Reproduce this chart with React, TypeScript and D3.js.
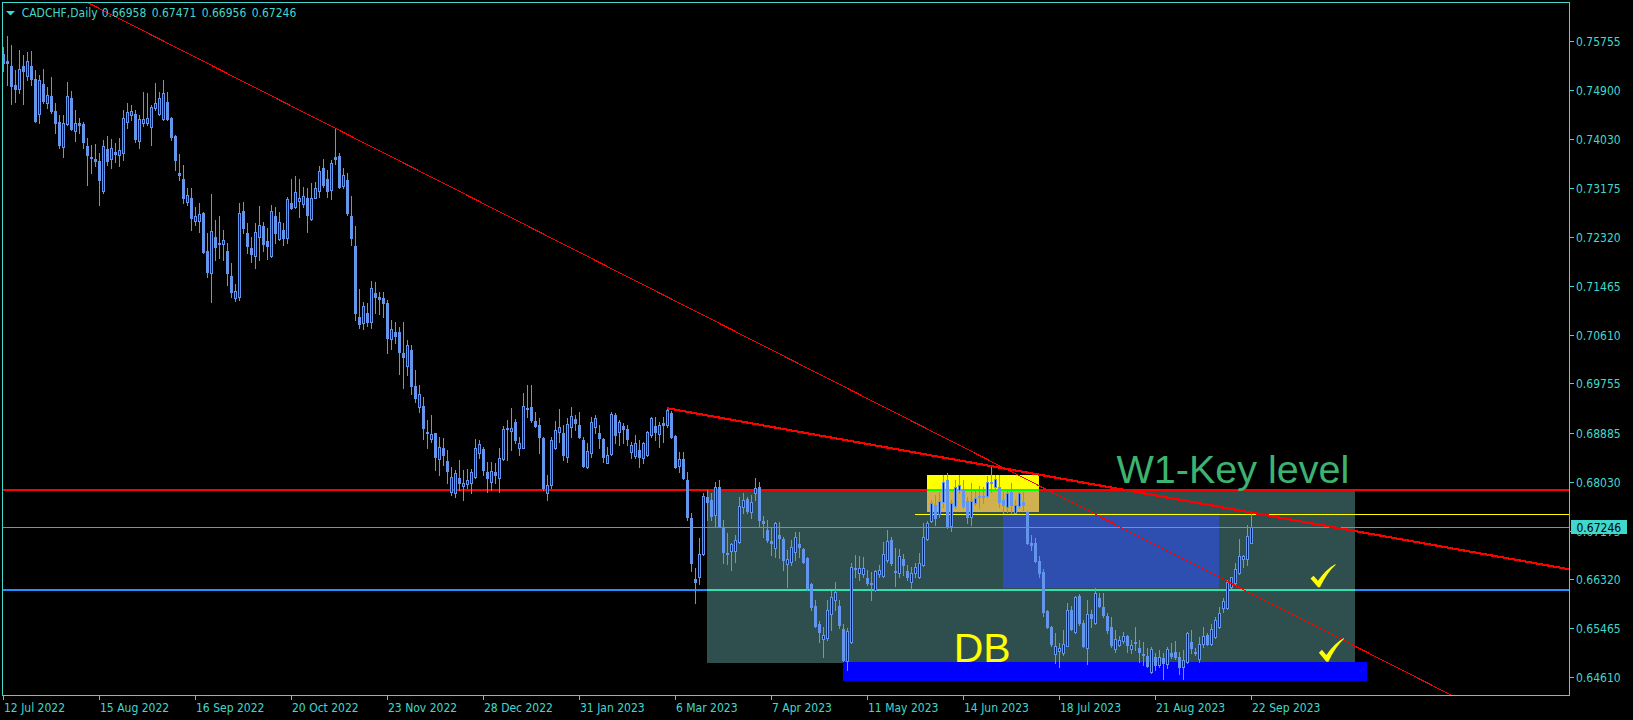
import React from "react";
import * as d3 from "d3";

// ---------- DATA ----------
const SYMBOL = "CADCHF,Daily";
const LAST_OHLC = ["0.66958", "0.67471", "0.66956", "0.67246"];

// daily candles, prices in points (1 point = 0.00001)
const OPEN = [75527,75405,75317,74984,74920,75317,75148,75317,75089,74470,75002,74675,74791,74529,74330,73904,74295,74751,74184,74313,74295,73915,73728,73688,73652,73133,73863,73682,73804,73764,73787,74330,74458,74476,74009,74324,74324,74254,74575,74476,74383,74686,74400,74091,73436,73337,72928,72998,72607,72607,72736,72076,71696,72327,72221,72198,72081,71637,71250,71270,72776,72397,72122,71994,72327,72514,72251,71994,72689,72292,72443,72309,72917,72852,72957,72899,72998,72636,73009,73133,73530,73337,73144,73723,73740,73220,73320,72689,72163,70925,70820,70995,70826,71334,71275,71246,71170,70528,70650,70650,70282,70066,70341,69710,69336,69359,68910,68781,68880,68425,68618,68396,67860,67841,68093,67964,67993,68005,68122,68531,68606,68209,68034,68209,68093,68425,68969,68928,69085,68618,68630,69319,69348,69103,69027,68793,67841,67976,68630,68910,68881,68472,68986,69126,69027,68764,68297,68531,68998,68881,68776,68367,68513,69202,68910,69010,68951,68560,68484,68589,68443,68501,68852,69015,68863,69068,69027,69243,68834,68314,68431,68063,67391,66328,66369,66766,67759,67712,67449,67934,67245,66789,66824,66824,66982,67584,67730,67496,67841,67934,67344,67187,66994,66865,67099,67029,66585,66632,66807,66941,66854,66690,66240,65855,65539,65271,65288,65715,65960,65855,65452,64891,65230,66515,66439,66410,66340,66264,66135,66410,66381,66661,67011,66474,66439,66673,66474,66270,66439,66357,66573,67029,67350,67625,67467,67683,68063,67257,67607,67888,67888,67701,67420,67654,67782,67782,67782,68034,67946,67934,67712,67584,67858,67490,67607,67683,67508,66965,66953,66649,66457,65767,65481,65014,65072,65025,65160,65785,65393,66030,65551,65113,65715,65563,66001,65843,65680,65481,65095,65171,65247,65329,65095,65218,65125,65014,64979,64693,64955,64821,64938,64833,65037,65043,64955,64792,64879,65230,65055,64920,65189,65347,65189,65306,65493,65814,65814,66182,66252,66427,66673,66673,66958];
const HIGH = [75656,75843,75685,75247,75598,75510,75568,75586,75247,75159,75259,74955,75119,74663,74459,74459,75043,74885,74546,74400,74342,74050,73933,73950,73787,74020,74091,74032,73962,74050,74546,74663,74634,74546,74458,74867,74838,74634,75025,74867,75072,74867,74429,74108,73769,73582,73173,73173,72852,72911,72765,72385,73074,72619,72689,72443,72210,71859,71500,72911,72940,72560,72327,72560,72870,72589,72473,72881,72852,72753,72560,73017,73337,73395,73337,73203,73173,73261,73290,73565,73688,73495,73670,74225,73787,73524,73436,73039,72514,71410,71188,71170,71550,71538,71363,71363,71217,70866,70837,70750,70826,70516,70428,69990,69727,69523,69114,69202,68892,68822,68793,68588,68296,68239,68414,68239,68250,68250,68776,68764,68647,68385,68385,68355,68618,69010,69115,69319,69126,68823,69582,69728,69728,69261,69144,68823,68151,68823,69103,69307,69027,69144,69348,69202,69261,68823,68706,69173,69202,69027,68793,68647,69261,69232,69115,69068,69027,68735,68852,68764,68735,68928,69173,69173,69085,69173,69319,69278,68851,68559,68559,68209,67479,66515,67041,67829,67888,67829,68034,68063,67362,67128,66953,67099,67771,67841,67771,67800,68092,68034,67432,67362,67245,67333,67333,67070,66836,67011,67157,67157,66865,66719,66252,65960,65598,65493,65960,66124,66281,65960,65539,65464,66603,66749,66731,66719,66486,66457,66486,66573,66982,67187,67070,66865,66854,66766,66573,66544,66614,66778,67315,67350,67712,67800,67858,68150,68191,67712,68063,68150,68063,67771,68004,67888,67958,67946,68133,68285,68150,68150,67858,67876,68016,67712,67858,67858,67525,67099,67041,66731,66497,65785,65504,65376,65201,65434,65902,65855,66030,66065,65610,65960,65785,66164,66088,66077,65726,65668,65434,65329,65405,65347,65259,65493,65259,65230,65113,65142,65037,65084,65037,65131,65212,65247,65055,65084,65393,65434,65113,65317,65493,65388,65540,65668,65843,65989,66310,66369,66603,67023,66749,67274,67471];
const LOW = [75235,74984,74651,74692,74838,74651,75072,74984,74342,74313,74675,74575,74488,74137,73874,73728,74283,74195,74009,74137,73874,73232,73436,73565,72882,73100,73582,73524,73641,73571,73670,74225,74371,73991,73886,74266,74283,73933,74546,74458,74371,74371,74020,73495,73320,72922,72882,72443,72531,72414,72035,71626,71182,71918,71947,71918,71480,71269,71200,71217,72385,72035,71889,71772,71918,72081,71929,71976,72210,72268,72181,72210,72811,72823,72677,72852,72403,72619,72998,73028,73203,73028,72987,73600,73174,73174,72706,72181,70866,70720,70703,70761,70720,70983,70966,70925,70282,70352,70469,69920,69681,69903,69570,69435,69260,68775,68618,68734,68238,68150,68326,68016,67800,67771,67888,67713,67917,67830,68093,68443,68151,67859,67888,68005,67859,68414,68414,68589,68706,68501,68618,69173,69085,68998,68531,67888,67713,67917,68601,68723,68414,68385,68811,68940,68793,68297,68268,68472,68881,68618,68385,68355,68501,68706,68677,68706,68677,68443,68443,68297,68355,68484,68823,68764,68647,68735,68998,68793,68267,68209,68074,67362,66474,65902,66240,66749,67362,67362,67245,67245,66603,66585,66486,66632,66953,67479,67479,67391,67712,67245,67070,66982,66749,66719,66690,66486,66194,66573,66661,66719,66614,66135,65785,65493,65230,64967,65259,65434,65785,65464,64897,64733,65201,66369,66310,66369,66223,65960,66124,66369,66369,66632,66573,66205,66369,66398,66310,66147,66369,66340,66556,67011,67333,67274,67420,67596,67216,67175,67566,67829,67566,67303,67274,67625,67566,67654,67771,67858,67888,67596,67479,67508,67479,67479,67566,67537,66941,66836,66632,66369,65686,65464,65160,64850,64780,64996,65154,65434,65376,65522,65142,64833,65493,65540,65843,65668,65388,65142,65055,65154,65201,65055,65037,65084,64879,64821,64792,64687,64733,64792,64570,64763,64938,64920,64663,64570,64850,65025,64996,64879,65142,65171,65171,65288,65464,65756,65797,66164,66223,66416,66532,66573,66956];
const CLOSE = [75364,75376,74973,74920,75259,75235,75405,75089,74353,75072,74710,74809,74534,74324,73933,74313,74791,74213,74313,74283,73991,73758,73705,73658,73320,73915,73658,73874,73775,73845,74400,74505,74529,74038,74388,74388,74406,74593,74663,74751,74838,74383,74079,73670,73413,72998,73051,72660,72689,72724,72064,71713,72420,72152,72192,72268,71696,71357,71375,72747,72484,72163,72023,72408,72531,72198,72163,72776,72397,72584,72309,72987,72829,73103,72998,73039,72706,72998,73179,73477,73232,73133,73612,73694,73203,73407,72736,72297,70995,70790,71112,70837,71421,71275,71234,71170,70557,70703,70592,70300,70224,70423,69716,69494,69564,68980,68880,68869,68472,68635,68501,68226,68110,68180,68005,68005,68064,68197,68618,68688,68239,68093,68227,68151,68443,68957,68951,68969,68764,68706,69360,69302,69115,69010,68823,67917,67976,68764,68939,68986,68501,69045,69185,69056,68811,68309,68577,69074,69144,68793,68461,68501,69220,68852,69085,68951,68776,68677,68706,68472,68706,68899,69144,68910,69027,69027,69290,68822,68285,68431,68092,67420,66614,66281,66766,67782,67683,67432,67934,67245,66807,66772,66941,67011,67607,67712,67525,67671,67917,67362,67303,67011,66953,67303,67052,66661,66673,66895,67058,66895,66632,66164,65843,65504,65405,65347,65785,66007,66094,65522,64909,65417,66544,66497,66515,66527,66264,66240,66474,66486,66766,66999,66603,66456,66737,66567,66369,66439,66532,66603,67058,67315,67654,67391,67701,68034,67245,67666,67934,67969,67607,67420,67701,67741,67771,67759,68034,68004,68074,67683,67625,67841,67625,67625,67829,67625,66953,66924,66649,66439,65756,65481,65189,65154,65113,65189,65785,65446,66018,65563,65154,65715,65639,66077,65855,65697,65434,65171,65271,65259,65329,65171,65171,65201,65055,64996,64809,65101,64821,64955,64862,65095,64979,64967,64792,64908,65376,65113,65037,65189,65329,65189,65446,65610,65738,65942,66281,66357,66497,66737,66731,67082,67246];

const PRICE_TICKS = [0.75755, 0.749, 0.7403, 0.73175, 0.7232, 0.71465, 0.7061, 0.69755, 0.68885, 0.6803, 0.67175, 0.6632, 0.65465, 0.6461];
const DATE_LABELS = ["12 Jul 2022", "15 Aug 2022", "16 Sep 2022", "20 Oct 2022", "23 Nov 2022", "28 Dec 2022", "31 Jan 2023", "6 Mar 2023", "7 Apr 2023", "11 May 2023", "14 Jun 2023", "18 Jul 2023", "21 Aug 2023", "22 Sep 2023"];
const DATE_BARS = [0, 24, 48, 72, 96, 120, 144, 168, 192, 216, 240, 264, 288, 312];

// drawn objects (bar index, price)
const KEY_LEVEL = 0.67887;
const SUPPORT_LEVEL = 0.66135;
const HIGH_LINE = { bar: 228, price: 0.67471 };
const BID = 0.67246;
const TREND_MAJOR = [[83, 0.74225], [340, 0.65076]];
const TREND_MINOR = [[166, 0.69319], [349, 0.67029]];
const RANGE_RECT = { b0: 176, b1: 338, p0: 0.67861, p1: 0.64864 };
const TOP_RECT = { b0: 231, b1: 259, p0: 0.6815, p1: 0.67502 };
const MID_RECT = { b0: 250, b1: 304, p0: 0.67479, p1: 0.66175 };
const BASE_RECT = { b0: 210, b1: 341, p0: 0.64873, p1: 0.6454 };
const LABEL_KEY = { text: "W1-Key level", bar: 278.3, price: 0.68005 };
const LABEL_DB = { text: "DB", bar: 237.6, price: 0.64873 };
const CHECKS = [
  { bar: 326.8, top: 0.6659, bottom: 0.66182 },
  { bar: 328.9, top: 0.65294, bottom: 0.64879 },
];

// ---------- STYLE ----------
const W = 1633, H = 720;
const L = 2, T = 2, R = 1569, B = 695;
const FG = "#40D8CC";
const FONT = "'DejaVu Sans Condensed', 'DejaVu Sans', sans-serif";
const BULL_FILL = "#0000FF";
const CANDLE = "#6495ED";
const SLATE = "#2F4F4F";

export default function App() {
  const x = d3.scaleLinear().domain([0, 312]).range([3.3, 1251.3]);
  const y = d3.scaleLinear().domain([0.6461, 0.75755]).range([677, 41]);
  const py = (pts: number) => Math.round(y(pts / 1e5));

  const lineAt = (pts: number[][], xv: number) => {
    const [a, b] = pts;
    const s = (b[1] - a[1]) / (b[0] - a[0]);
    return a[1] + s * (xv - a[0]);
  };
  const xMaxBar = x.invert(R);
  const xMinBar = x.invert(L);

  const rect = (r: any) => ({
    x: Math.round(x(r.b0)),
    y: Math.round(y(r.p0)),
    w: Math.round(x(r.b1)) - Math.round(x(r.b0)),
    h: Math.round(y(r.p1)) - Math.round(y(r.p0)),
  });
  const rr = rect(RANGE_RECT), tr = rect(TOP_RECT), mr = rect(MID_RECT), br = rect(BASE_RECT);
  // overlap of top rect and range rect (XOR colour)
  const ovY0 = Math.max(tr.y, rr.y), ovY1 = Math.min(tr.y + tr.h, rr.y + rr.h);

  const candles = OPEN.map((o, i) => {
    const c = CLOSE[i], hi = HIGH[i], lo = LOW[i];
    const cx = Math.floor(x(i));
    const yh = py(hi), yl = py(lo);
    const bt = py(Math.max(o, c)), bb = py(Math.min(o, c));
    const bh = Math.max(1, bb - bt + 1);
    const bull = c > o;
    return (
      <g key={i}>
        <rect x={cx} y={yh} width={1} height={yl - yh + 1} fill={CANDLE} />
        <rect x={cx - 1} y={bt} width={3} height={bh} fill={CANDLE} />
        {bull && bh > 2 && <rect x={cx} y={bt + 1} width={1} height={bh - 2} fill={BULL_FILL} />}
      </g>
    );
  });

  const keyY = Math.round(y(KEY_LEVEL));
  const supY = Math.round(y(SUPPORT_LEVEL));
  const hiY = Math.round(y(HIGH_LINE.price)) + 0.5;
  const bidY = Math.round(y(BID)) + 0.5;

  const checkPath = "M0,0.62 L0.12,0.5 L0.3,0.72 Q0.62,0.22 1,0 L1,0.04 Q0.66,0.36 0.38,1 L0.3,1 Z";

  return (
    <svg width={W} height={H} style={{ position: "fixed", left: 0, top: 0, display: "block", background: "#000" }}
      fontFamily={FONT} style-stretch="condensed">
      <rect x={0} y={0} width={W} height={H} fill="#000" />
      <defs>
        <clipPath id="plot"><rect x={L} y={T} width={R - L} height={B - T} /></clipPath>
      </defs>
      <g clipPath="url(#plot)" shapeRendering="crispEdges">
        {/* horizontal lines under rectangles */}
        <rect x={L} y={supY - 1} width={R - L} height={2} fill="#1E90FF" />
        <rect x={L} y={keyY - 1} width={R - L} height={2} fill="#FF0000" />
        {/* background rectangles (XOR-blended as in MT4) */}
        <rect x={rr.x} y={rr.y} width={rr.w} height={rr.h} fill={SLATE} />
        <rect x={rr.x} y={supY - 1} width={rr.w} height={2} fill="#31DFB0" />
        <rect x={tr.x} y={tr.y} width={tr.w} height={tr.h} fill="#FFFF00" />
        {ovY1 > ovY0 && <rect x={tr.x} y={ovY0} width={tr.w} height={ovY1 - ovY0} fill="#D0B04F" />}
        <rect x={tr.x} y={keyY - 1} width={tr.w} height={2} fill="#00FF00" />
        <rect x={mr.x} y={mr.y} width={mr.w} height={mr.h} fill="#2F4FB0" />
        <rect x={br.x} y={br.y} width={br.w} height={br.h} fill="#0000FF" />
        {/* yellow high line */}
        <line x1={x(HIGH_LINE.bar)} x2={R} y1={hiY} y2={hiY} stroke="#FFFF00" strokeWidth={1} />
        {candles}
        {/* bid line */}
        <line x1={L} x2={R} y1={bidY} y2={bidY} stroke="#8C8C96" strokeWidth={1} />
        {/* trendlines */}
        <line x1={x(xMinBar)} y1={y(lineAt(TREND_MAJOR, xMinBar))} x2={x(xMaxBar)} y2={y(lineAt(TREND_MAJOR, xMaxBar))}
          stroke="#FF0000" strokeWidth={1} />
        <line x1={x(TREND_MINOR[0][0])} y1={y(TREND_MINOR[0][1])} x2={x(xMaxBar)} y2={y(lineAt(TREND_MINOR, xMaxBar))}
          stroke="#FF0000" strokeWidth={2.2} />
      </g>
      {/* annotations */}
      <text x={x(LABEL_KEY.bar)} y={y(LABEL_KEY.price)} fill="#3CB371" fontFamily="'Liberation Sans', Arial, sans-serif" fontSize={39.5}>{LABEL_KEY.text}</text>
      <text x={x(LABEL_DB.bar)} y={y(LABEL_DB.price)} fill="#FFFF00" fontFamily="'Liberation Sans', Arial, sans-serif" fontSize={41}>{LABEL_DB.text}</text>
      {CHECKS.map((c, i) => {
        const cy0 = y(c.top), cy1 = y(c.bottom);
        return <path key={i} d={checkPath} fill="#FFFF00" transform={`translate(${x(c.bar)},${cy0}) scale(25,${cy1 - cy0})`} />;
      })}
      {/* frame */}
      <g shapeRendering="crispEdges" stroke={FG} strokeWidth={1}>
        <line x1={L + 0.5} x2={L + 0.5} y1={T} y2={B + 1} />
        <line x1={L} x2={R + 1} y1={T + 0.5} y2={T + 0.5} />
        <line x1={R + 0.5} x2={R + 0.5} y1={T} y2={B + 1} />
        <line x1={L} x2={R + 1} y1={B + 0.5} y2={B + 0.5} />
        {PRICE_TICKS.map((p, i) => (
          <line key={i} x1={R} x2={R + 5} y1={Math.round(y(p)) + 0.5} y2={Math.round(y(p)) + 0.5} />
        ))}
        {DATE_BARS.map((b, i) => (
          <line key={i} x1={Math.floor(x(b)) + 0.5} x2={Math.floor(x(b)) + 0.5} y1={B} y2={B + 5} />
        ))}
      </g>
      <g fill={FG} fontSize={12} style={{ fontStretch: "condensed" }}>
        {PRICE_TICKS.map((p, i) => (
          <text key={i} x={1576} y={Math.round(y(p)) + 4.5}>{p.toFixed(5)}</text>
        ))}
        {DATE_LABELS.map((d, i) => (
          <text key={i} x={Math.floor(x(DATE_BARS[i])) + 1} y={711.5}>{d}</text>
        ))}
        <polygon points="6,11 15,11 10.5,15.5" />
        <text x={21.7} y={16.7}>{SYMBOL}</text>
        {LAST_OHLC.map((v, i) => (
          <text key={i} x={101.7 + i * 50} y={16.7}>{v}</text>
        ))}
      </g>
      {/* bid price box */}
      <rect x={1571} y={Math.round(y(BID)) - 7} width={56} height={14} fill={FG} />
      <text x={1576.5} y={Math.round(y(BID)) + 4.5} fill="#000" fontSize={12} style={{ fontStretch: "condensed" }}>{BID.toFixed(5)}</text>
    </svg>
  );
}
